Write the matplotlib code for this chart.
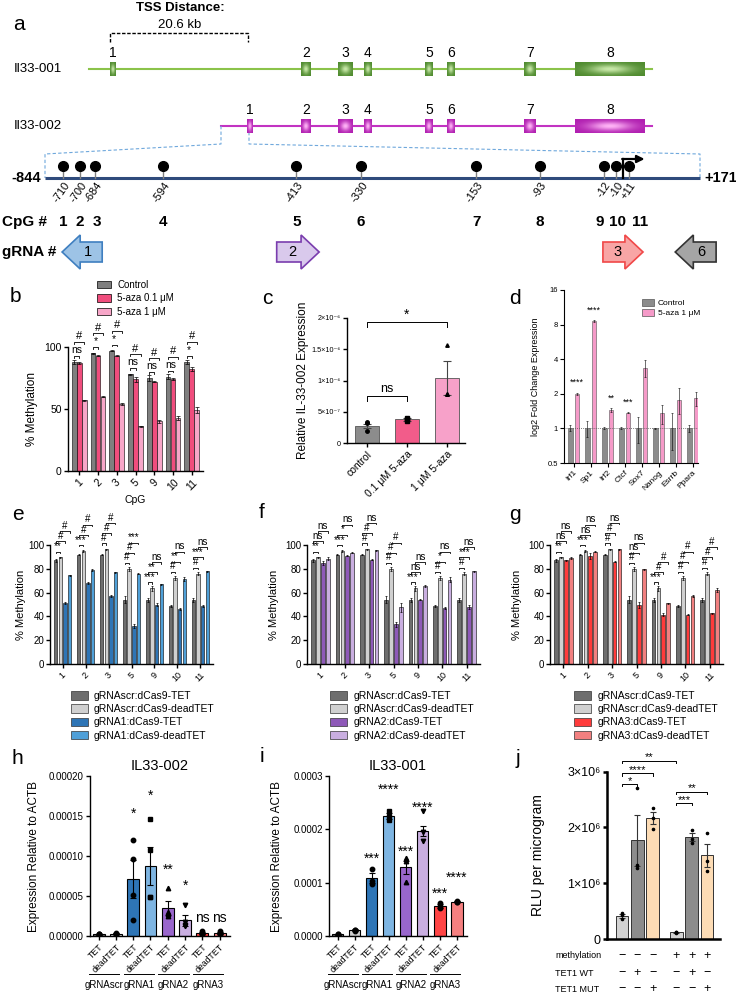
import numpy as np
import matplotlib
matplotlib.use('Agg')
import matplotlib.pyplot as plt
from matplotlib.patches import Polygon, Patch
import matplotlib.transforms as mtransforms

plt.rcParams['font.family'] = ['Liberation Sans', 'DejaVu Sans']
plt.rcParams['axes.linewidth'] = 1.0

# ======================= DATA =======================
# panel a : schematic (exon spans in schematic units)
exon_nums = ['1', '2', '3', '4', '5', '6', '7', '8']
exon_start_001 = [110, 301, 338, 364, 425, 447, 524, 575]
exon_end_001 = [116, 311, 353, 372, 433, 455, 536, 645]
exon_start_002 = [247, 301, 338, 364, 425, 447, 524, 575]
exon_end_002 = [253, 311, 353, 372, 433, 455, 536, 645]
tx_span_001 = [89, 652]
tx_span_002 = [221, 652]
# CpG positions (bp) and their place on the (not-to-scale) schematic
cpg_pos_labels = ['-710', '-700', '-684', '-594', '-413', '-330', '-153', '-93', '-12', '-10', '+11']
cpg_schematic = [-710, -688, -669, -583, -413, -331, -184, -103, -22, -6, 10]
cpg_numbers = ['1', '2', '3', '4', '5', '6', '7', '8', '9', '10', '11']
cpg_number_pos = [-710, -688, -667, -583, -413, -331, -184, -103, -27, -4, 24]
promoter_span = [-733, 100]
grna_names = ['1', '2', '3', '6']
grna_start = [-711, -438, -23, 69]
grna_end = [-660, -384, 28, 121]
grna_dir = [-1, 1, 1, -1]

# panel b
b_cpg = ['1', '2', '3', '5', '9', '10', '11']
b_control = [88, 95, 97, 78, 75, 76, 88]
b_aza01 = [87, 93, 93, 74, 72, 74, 82]
b_aza1 = [57, 60, 54, 36, 40, 43, 49]
b_control_err = [1.5, 0.5, 0.5, 0.5, 2.5, 2.0, 1.5]
b_aza01_err = [1.0, 0.5, 0.5, 2.0, 0.5, 1.0, 1.5]
b_aza1_err = [0.5, 0.5, 0.5, 0.5, 1.5, 1.5, 2.5]
b_sig_low = ['ns', '*', '*', 'ns', 'ns', 'ns', '*']
b_sig_high = ['#', '#', '#', '#', '#', '#', '#']

# panel c
c_groups = ['control', '0.1 \u03bcM 5-aza', '1 \u03bcM 5-aza']
c_means = [2.77e-7, 3.78e-7, 1.04e-6]
c_errs = [0.35e-7, 0.3e-7, 0.27e-6]
c_points = [[1.9e-7, 3.2e-7, 3.3e-7], [3.5e-7, 3.8e-7, 4.0e-7], [7.8e-7, 7.9e-7, 1.57e-6]]

# panel d
d_genes = ['Irf1', 'Sp1', 'Irf2', 'Ctcf', 'Sox7', 'Nanog', 'Esrrb', 'Ppara']
d_control = [1, 1, 1, 1, 1, 1, 1, 1]
d_control_err = [0.06, 0.15, 0.02, 0.02, 0.25, 0.01, 0.35, 0.07]
d_aza = [2.0, 8.6, 1.45, 1.37, 3.35, 1.35, 1.78, 1.83]
d_aza_err = [0.04, 0.1, 0.05, 0.02, 0.55, 0.25, 0.45, 0.25]
d_sig = ['****', '****', '**', '***', '', '', '', '']

# panels e-g
meth_cpg = ['1', '2', '3', '5', '9', '10', '11']
scr_tet = [87, 92, 92, 54, 54, 49, 54]
scr_dead = [89.5, 95, 96.5, 80, 63.5, 72.5, 76]
e_tet = [51.5, 68, 57, 32, 50, 46, 48.5]
e_dead = [74.5, 79, 77, 76, 67, 71.5, 78]
f_tet = [85, 91, 87.5, 33.5, 54, 47, 48]
f_dead = [88.5, 93.5, 95.5, 47.5, 65.5, 71, 78]
g_tet = [87, 91, 86, 49.5, 41.5, 41.5, 42.5]
g_dead = [89, 94.5, 96.5, 79.5, 51, 57, 62]
scr_tet_err = [1.5, 0.8, 0.5, 3.0, 1.5, 1.0, 1.5]
scr_dead_err = [0.5, 0.8, 0.5, 1.5, 2.0, 1.5, 1.0]
e_tet_err = [1.0, 0.5, 1.0, 1.5, 1.5, 1.0, 1.0]
e_dead_err = [0.5, 1.0, 0.5, 0.5, 0.5, 2.0, 0.5]
f_tet_err = [1.5, 0.5, 0.5, 2.0, 0.5, 0.5, 1.5]
f_dead_err = [1.0, 0.5, 0.5, 4.0, 0.5, 2.5, 0.5]
g_tet_err = [0.5, 2.5, 0.5, 2.5, 1.0, 0.5, 0.5]
g_dead_err = [0.5, 0.5, 0.5, 0.5, 0.5, 1.0, 1.5]
e_sig = [['**', '***', '#', '#', '***', '#', '#'],
         ['#', '#', '#', '#', '**', '**', '***'],
         ['#', '#', '#', '***', 'ns', 'ns', 'ns']]
f_sig = [['**', '***', '#', '#', '***', '#', '#'],
         ['ns', '*', '#', '#', 'ns', '*', '***'],
         ['ns', 'ns', 'ns', '#', 'ns', 'ns', 'ns']]
g_sig = [['**', '***', '#', '#', '***', '#', '#'],
         ['ns', 'ns', '#', 'ns', '#', '#', '#'],
         ['ns', 'ns', 'ns', 'ns', '#', '#', '#']]
e_labels = ['gRNAscr:dCas9-TET', 'gRNAscr:dCas9-deadTET', 'gRNA1:dCas9-TET', 'gRNA1:dCas9-deadTET']
f_labels = ['gRNAscr:dCas9-TET', 'gRNAscr:dCas9-deadTET', 'gRNA2:dCas9-TET', 'gRNA2:dCas9-deadTET']
g_labels = ['gRNAscr:dCas9-TET', 'gRNAscr:dCas9-deadTET', 'gRNA3:dCas9-TET', 'gRNA3:dCas9-deadTET']

# panels h, i
hi_ticklabels = ['TET', 'deadTET'] * 4
hi_groups = ['gRNAscr', 'gRNA1', 'gRNA2', 'gRNA3']
h_means = [0.000002, 0.000003, 0.0000712, 0.0000871, 0.000035, 0.0000196, 0.000004, 0.000004]
h_errs = [0.0000005, 0.000001, 0.0000242, 0.0000239, 0.0000083, 0.0000070, 0.000001, 0.000001]
h_points = [[2e-6, 3e-6, 1e-6, 2e-6], [3e-6, 2e-6, 4e-6, 2e-6], [120e-6, 96e-6, 51e-6, 20e-6],
            [146e-6, 108e-6, 49e-6, 49e-6], [60e-6, 28e-6, 25e-6, 30e-6], [39e-6, 17e-6, 14e-6, 12e-6],
            [6e-6, 4e-6, 3e-6, 2e-6], [6e-6, 4e-6, 3e-6, 3e-6]]
h_sig = ['', '', '*', '*', '**', '*', 'ns', 'ns']
h_sig_y = [0, 0, 0.000153, 0.000175, 0.000083, 0.000063, 0.000022, 0.000022]
i_means = [0.000003, 0.000011, 0.000109, 0.000225, 0.000129, 0.000197, 0.000056, 0.000064]
i_errs = [0.000001, 0.000002, 0.000009, 0.000005, 0.000012, 0.00001, 0.000004, 0.000001]
i_points = [[3e-6, 4e-6, 2e-6], [12e-6, 10e-6, 11e-6], [125e-6, 103e-6, 98e-6], [234e-6, 225e-6, 217e-6],
            [146e-6, 140e-6, 102e-6], [234e-6, 195e-6, 178e-6], [61e-6, 56e-6, 52e-6], [66e-6, 64e-6, 63e-6]]
i_sig = ['', '', '***', '****', '***', '****', '***', '****']
i_sig_y = [0, 0, 0.000144, 0.000274, 0.000157, 0.00024, 0.00008, 0.00011]

# panel j
j_means = [0.41e6, 1.77e6, 2.17e6, 0.12e6, 1.83e6, 1.50e6]
j_errs = [0.04e6, 0.46e6, 0.11e6, 0.01e6, 0.08e6, 0.20e6]
j_points = [[0.47e6, 0.43e6, 0.36e6], [2.71e6, 1.33e6, 1.28e6], [2.35e6, 2.17e6, 1.98e6],
            [0.12e6, 0.12e6, 0.11e6], [1.95e6, 1.80e6, 1.73e6], [1.91e6, 1.39e6, 1.22e6]]
j_brackets = [(0, 1, '*', 2.78e6), (0, 2, '****', 2.97e6), (0, 3, '**', 3.2e6),
              (3, 4, '***', 2.44e6), (3, 5, '**', 2.64e6)]
j_rows = ['methylation', 'TET1 WT', 'TET1 MUT']
j_methylation = ['\u2212', '\u2212', '\u2212', '+', '+', '+']
j_tet1_wt = ['\u2212', '+', '\u2212', '\u2212', '+', '\u2212']
j_tet1_mut = ['\u2212', '\u2212', '+', '\u2212', '\u2212', '+']

# ======================= FIGURE =======================
W, H = 736, 994
DPI = 100
fig = plt.figure(figsize=(W / DPI, H / DPI), dpi=DPI)


def pax(x0, y0, x1, y1):
    return fig.add_axes([x0 / W, 1 - y1 / H, (x1 - x0) / W, (y1 - y0) / H])


def ftext(x, y, s, **kw):
    fig.text(x / W, 1 - y / H, s, **kw)


def style(ax, lw=1.0):
    for s in ['top', 'right']:
        ax.spines[s].set_visible(False)
    ax.spines['left'].set_linewidth(lw)
    ax.spines['bottom'].set_linewidth(lw)
    ax.tick_params(direction='out', length=3, width=lw, pad=1.5)
    ax.patch.set_alpha(0)


def ylabel_px(ax, text, xpx, fs, ycenter=0.5):
    ax.set_ylabel(text, fontsize=fs)
    bb = ax.get_position()
    ax.yaxis.set_label_coords((xpx / W - bb.x0) / bb.width, ycenter)


def bracket(ax, x0, x1, y, text, tick, fs, gap=0.0, lw=0.6):
    ax.plot([x0, x0, x1, x1], [y - tick, y, y, y - tick], color='k', lw=lw, clip_on=False)
    if text:
        ax.text((x0 + x1) / 2, y + gap, text, ha='center', va='bottom', fontsize=fs, clip_on=False)


# panel letters
for lab, (x, y) in {'a': (19, 25), 'b': (15, 297), 'c': (267, 299), 'd': (515, 298), 'e': (18, 515),
                    'f': (262, 513), 'g': (515, 515), 'h': (17, 758), 'i': (262, 757), 'j': (518, 758)}.items():
    ftext(x, y, lab, fontsize=15, ha='center', va='center')

# ----------------------- panel a -----------------------
ax_a = pax(0, 0, 736, 275)
ax_a.axis('off')
ax_p = pax(0, 0, 736, 275)
ax_p.axis('off')


def draw_exon(ax, x0, x1, yc, h, dark, light):
    nx, ny = 40, 12
    X, Y = np.meshgrid(np.linspace(-1, 1, nx), np.linspace(-1, 1, ny))
    v = np.exp(-(X ** 2) * 2.5 - (Y ** 2) * 2.0)[..., None]
    d = np.array(matplotlib.colors.to_rgb(dark))
    l = np.array(matplotlib.colors.to_rgb(light))
    img = d + (l - d) * v
    ax.imshow(img, extent=(x0, x1, yc + h / 2, yc - h / 2), aspect='auto', interpolation='bilinear', zorder=3)


tx = [(tx_span_001, exon_start_001, exon_end_001, 69, '#8BC34A', '#4E8A2E', '#C8E8A8', 'Il33-001'),
      (tx_span_002, exon_start_002, exon_end_002, 126, '#C233C2', '#B01EB0', '#FFB3F6', 'Il33-002')]
for span, st, en, yc, lc, dk, lt, name in tx:
    ax_a.plot(span, [yc, yc], color=lc, lw=1.5, zorder=1)
    for s, e, n in zip(st, en, exon_nums):
        draw_exon(ax_a, s, e, yc, 14, dk, lt)
        ax_a.text((s + e) / 2, yc - 16, n, ha='center', va='center', fontsize=10)
    ax_a.text(14, yc, name, ha='left', va='center', fontsize=9.5)

ax_a.plot([110, 110, 248, 248], [42, 33, 33, 42], ls=(0, (2.5, 1.2)), color='k', lw=1)
ax_a.text(180, 8, 'TSS Distance:', ha='center', va='center', fontsize=9.5, fontweight='bold')
ax_a.text(180, 25, '20.6 kb', ha='center', va='center', fontsize=9.5)
ax_a.plot([221, 221, 45, 45], [126, 144, 154, 178], ls=(0, (3, 2)), color='#6FA8DC', lw=0.8)
ax_a.plot([249, 249, 700, 700], [132, 144, 154, 178], ls=(0, (3, 2)), color='#6FA8DC', lw=0.8)
ax_a.text(41, 178, '-844', ha='right', va='center', fontsize=10.5, fontweight='bold')
ax_a.text(704, 178, '+171', ha='left', va='center', fontsize=10.5, fontweight='bold')
ax_a.text(2, 222, 'CpG #', ha='left', va='center', fontsize=11, fontweight='bold')
ax_a.text(2, 252, 'gRNA #', ha='left', va='center', fontsize=11, fontweight='bold')
ax_a.set_xlim(0, 736)
ax_a.set_ylim(275, 0)

# promoter
ax_p.plot(promoter_span, [178, 178], color='#2F4B7C', lw=2.2, solid_capstyle='butt')
for p, lab in zip(cpg_schematic, cpg_pos_labels):
    ax_p.plot([p, p], [166, 178], color='#808080', lw=1)
    ax_p.plot(p, 166, 'o', color='k', ms=7, zorder=4)
    ax_p.text(p + 6, 183, lab, rotation=55, ha='right', va='center', rotation_mode='anchor', fontsize=8)
ax_p.plot([2.5, 2.5], [178, 159], color='k', lw=1.6)
ax_p.annotate('', xy=(30, 159), xytext=(1.5, 159),
              arrowprops=dict(arrowstyle='-|>', lw=1.6, color='k', mutation_scale=11, shrinkA=0, shrinkB=0))
for p, n in zip(cpg_number_pos, cpg_numbers):
    ax_p.text(p, 222, n, ha='center', va='center', fontsize=11, fontweight='bold')

grna_cols = [('#9DC3E6', '#3F7FC0'), ('#D9C9EC', '#7A3DAE'), ('#F8A5A5', '#F04848'), ('#A5A5A5', '#333333')]
for s, e, d, n, (fc, ec) in zip(grna_start, grna_end, grna_dir, grna_names, grna_cols):
    yc, bh, hh, hl = 252, 10, 17, 23
    if d > 0:
        pts = [(s, yc - bh), (e - hl, yc - bh), (e - hl, yc - hh), (e, yc), (e - hl, yc + hh), (e - hl, yc + bh),
               (s, yc + bh)]
        tx_x = (s + e - hl) / 2 + 4
    else:
        pts = [(e, yc - bh), (s + hl, yc - bh), (s + hl, yc - hh), (s, yc), (s + hl, yc + hh), (s + hl, yc + bh),
               (e, yc + bh)]
        tx_x = (e + s + hl) / 2 - 4
    ax_p.add_patch(Polygon(pts, closed=True, facecolor=fc, edgecolor=ec, lw=1.2))
    ax_p.text(tx_x, yc, n, ha='center', va='center', fontsize=10.5)
ax_p.set_xlim(-790, 146.3)
ax_p.set_ylim(275, 0)

# ----------------------- panel b -----------------------
ax_b = pax(68, 316, 203, 471)
style(ax_b)
bx = np.arange(len(b_cpg))
b_cols = ['#7F7F7F', '#F04D7D', '#F7A6C8']
b_series = [b_control, b_aza01, b_aza1]
b_errs = [b_control_err, b_aza01_err, b_aza1_err]
b_off = [-0.27, 0, 0.27]
for k in range(3):
    ax_b.bar(bx + b_off[k], b_series[k], 0.25, color=b_cols[k], edgecolor='k', linewidth=0.4,
             yerr=b_errs[k], error_kw=dict(elinewidth=0.5, capsize=1.2, capthick=0.5))
for g in range(len(bx)):
    h1 = max(b_control[g], b_aza01[g]) + 5
    bracket(ax_b, bx[g] + b_off[0], bx[g] + b_off[1], h1, b_sig_low[g], 1.5, 7.5, 0.5)
    bracket(ax_b, bx[g] + b_off[0], bx[g] + b_off[2], h1 + 11, b_sig_high[g], 1.5, 8, 0.5)
ax_b.set_ylim(0, 125)
ax_b.set_xlim(-0.6, 6.6)
ax_b.spines['left'].set_bounds(0, 100)
ax_b.set_yticks([0, 50, 100])
ax_b.tick_params(axis='y', labelsize=7.5)
ax_b.set_xticks(bx)
ax_b.set_xticklabels(b_cpg, rotation=45, fontsize=7.5)
ax_b.set_xlabel('CpG', fontsize=7.5, labelpad=2)
ylabel_px(ax_b, '% Methylation', 38, 8.5, 50 / 125)
fig.legend([Patch(facecolor=c, edgecolor='k', lw=0.5) for c in b_cols],
           ['Control', '5-aza 0.1 \u03bcM', '5-aza 1 \u03bcM'], loc='upper left',
           bbox_to_anchor=(92 / W, 1 - 275 / H), frameon=False, fontsize=7, borderpad=0,
           handlelength=1.5, handleheight=0.8, handletextpad=0.6, labelspacing=0.35)

# ----------------------- panel c -----------------------
ax_c = pax(347, 318, 465, 443)
style(ax_c)
cx = np.arange(3)
c_cols = ['#8C8C8C', '#F25C8A', '#F7A1C9']
ax_c.bar(cx, c_means, 0.62, color=c_cols, edgecolor='#555555', linewidth=0.6, yerr=c_errs,
         error_kw=dict(elinewidth=0.8, capsize=3, capthick=0.8, ecolor='#444444'))
for k, mk in zip(range(3), ['o', 's', '^']):
    ax_c.plot([cx[k]] * len(c_points[k]), c_points[k], mk, color='k', ms=2.5, ls='none')
bracket(ax_c, 0, 1, 0.75e-6, 'ns', 0.08e-6, 9, 0.02e-6, lw=0.7)
bracket(ax_c, 0, 2, 1.94e-6, '*', 0.08e-6, 10, 0.0, lw=0.7)
ax_c.set_ylim(0, 2e-6)
ax_c.set_xlim(-0.5, 2.45)
ax_c.set_yticks([0, 5e-7, 1e-6, 1.5e-6, 2e-6])
ax_c.set_yticklabels(['0', '5\u00d710\u207b\u2077', '1\u00d710\u207b\u2076', '1.5\u00d710\u207b\u2076',
                      '2\u00d710\u207b\u2076'], fontsize=5.2)
ax_c.set_xticks(cx)
ax_c.set_xticklabels(c_groups, rotation=45, ha='right', rotation_mode='anchor', fontsize=7.5)
ylabel_px(ax_c, 'Relative IL-33-002 Expression', 309, 8.5)

# ----------------------- panel d -----------------------
ax_d = pax(564, 290, 698, 463)
style(ax_d, 0.8)
dx = np.arange(len(d_genes))
ax_d.set_yscale('log', base=2)
ax_d.bar(dx - 0.2, np.array(d_control) - 0.5, 0.28, bottom=0.5, color='#8C8C8C', edgecolor='#555555',
         linewidth=0.4, yerr=d_control_err, error_kw=dict(elinewidth=0.4, capsize=1, capthick=0.4))
ax_d.bar(dx + 0.2, np.array(d_aza) - 0.5, 0.28, bottom=0.5, color='#F59AC8', edgecolor='#555555',
         linewidth=0.4, yerr=d_aza_err, error_kw=dict(elinewidth=0.4, capsize=1, capthick=0.4))
ax_d.axhline(1, ls=(0, (1, 1.5)), color='#555555', lw=0.6)
for g, s in enumerate(d_sig):
    if s:
        ax_d.text(dx[g] + 0.2, (d_aza[g] + d_aza_err[g]) * 1.12, s, ha='center', va='bottom', fontsize=6.5)
ax_d.set_ylim(0.5, 16)
ax_d.set_xlim(-0.56, 7.32)
ax_d.set_yticks([0.5, 1, 2, 4, 8, 16])
ax_d.set_yticklabels(['0.5', '1', '2', '4', '8', '16'], fontsize=5.5)
ax_d.yaxis.set_minor_locator(matplotlib.ticker.NullLocator())
ax_d.set_xticks(dx)
ax_d.set_xticklabels(d_genes, rotation=45, ha='right', rotation_mode='anchor', fontsize=6)
ylabel_px(ax_d, 'log2 Fold Change Expression', 540, 6.5)
fig.legend([Patch(facecolor=c, edgecolor='#555555', lw=0.5) for c in ['#8C8C8C', '#F59AC8']],
           ['Control', '5-aza 1 \u03bcM'], loc='upper left', bbox_to_anchor=(638 / W, 1 - 295 / H),
           frameon=False, fontsize=6, borderpad=0, handlelength=1.4, handleheight=0.8,
           handletextpad=0.5, labelspacing=0.25)


# ----------------------- panels e, f, g -----------------------
def meth_panel(rect, series, errs, colors, sigs, ylab_x, labels, leg_xy):
    ax = pax(*rect)
    style(ax)
    x = np.arange(len(meth_cpg))
    offs = [-0.3, -0.1, 0.1, 0.3]
    for k in range(4):
        ax.bar(x + offs[k], series[k], 0.15, color=colors[k], edgecolor='k', linewidth=0.4, yerr=errs[k],
               error_kw=dict(elinewidth=0.5, capsize=1, capthick=0.5))
    pairs = [(0, 1), (0, 2), (1, 3)]
    for g in range(len(x)):
        h = max(series[0][g], series[1][g]) + 5
        for lev, (a, b) in enumerate(pairs):
            if lev > 0:
                h = max(h + 8.5, max(series[a][g], series[b][g]) + 5)
            bracket(ax, x[g] + offs[a], x[g] + offs[b], h, sigs[lev][g], 1.2, 7, 0.3)
    top = (rect[3] - rect[1]) / 1.19
    ax.set_ylim(0, top)
    ax.set_xlim(-0.55, 6.55)
    ax.spines['left'].set_bounds(0, 100)
    ax.set_yticks([0, 20, 40, 60, 80, 100])
    ax.tick_params(axis='y', labelsize=7, pad=1)
    ax.set_xticks(x)
    ax.set_xticklabels(meth_cpg, rotation=45, fontsize=6.5)
    ylabel_px(ax, '% Methylation', ylab_x, 8, 50 / top)
    fig.legend([Patch(facecolor=c, edgecolor='#333333', lw=0.5) for c in colors], labels, loc='upper left',
               bbox_to_anchor=(leg_xy[0] / W, 1 - leg_xy[1] / H), frameon=False, fontsize=7.5, borderpad=0,
               handlelength=1.6, handleheight=0.9, handletextpad=0.6, labelspacing=0.3)
    return ax


c_gray = ['#6E6E6E', '#D0D0D0']
meth_panel((50, 510, 213, 664), [scr_tet, scr_dead, e_tet, e_dead],
           [scr_tet_err, scr_dead_err, e_tet_err, e_dead_err], c_gray + ['#2E75B6', '#4FA0D8'], e_sig, 26,
           e_labels, (66, 686))
meth_panel((307, 510, 480, 664), [scr_tet, scr_dead, f_tet, f_dead],
           [scr_tet_err, scr_dead_err, f_tet_err, f_dead_err], c_gray + ['#8E59B8', '#C9AEE0'], f_sig, 279,
           f_labels, (325, 686))
meth_panel((550, 510, 723, 664), [scr_tet, scr_dead, g_tet, g_dead],
           [scr_tet_err, scr_dead_err, g_tet_err, g_dead_err], c_gray + ['#FF3B3B', '#F28080'], g_sig, 522,
           g_labels, (569, 686))

# ----------------------- panels h, i -----------------------
hi_cols = ['#6E6E6E', '#D0D0D0', '#2E75B6', '#7EB5E2', '#9966CC', '#C9AEE0', '#FF4545', '#F58080']
hi_markers = ['o', 'o', 'o', 's', '^', 'v', 'o', 'o']


def expr_panel(rect, means, errs, pts, sigs, sig_y, top, yticks, fmt, title, ylab_x):
    ax = pax(*rect)
    style(ax)
    x = np.arange(8)
    ax.bar(x, means, 0.68, color=hi_cols, edgecolor='k', linewidth=0.8, yerr=errs,
           error_kw=dict(elinewidth=0.8, capsize=2.5, capthick=0.8), zorder=2)
    for k in range(8):
        ax.plot([x[k]] * len(pts[k]), pts[k], hi_markers[k], color='k', ms=3.2, ls='none', zorder=3)
        if sigs[k]:
            ax.text(x[k], sig_y[k], sigs[k], ha='center', va='center', fontsize=10, clip_on=False)
    ax.set_ylim(0, top)
    ax.set_xlim(-0.5, 7.6)
    ax.set_yticks(yticks)
    ax.set_yticklabels([fmt % v for v in yticks], fontsize=7)
    ax.set_xticks(x)
    ax.set_xticklabels(hi_ticklabels, rotation=45, ha='right', rotation_mode='anchor', fontsize=6.3)
    ax.set_title(title, fontsize=10.5, pad=4)
    ylabel_px(ax, 'Expression Relative to ACTB', ylab_x, 8.5)
    tr = mtransforms.blended_transform_factory(ax.transData, fig.transFigure)
    for gi, gname in enumerate(hi_groups):
        ax.plot([2 * gi - 0.55, 2 * gi + 1.2], [1 - 974 / H] * 2, color='k', lw=0.7, transform=tr,
                clip_on=False)
        ax.text(2 * gi + 0.32, 1 - 985 / H, gname, ha='center', va='center', fontsize=7, transform=tr)
    return ax


expr_panel((90, 776, 230, 936), h_means, h_errs, h_points, h_sig, h_sig_y, 0.0002,
           [0, 0.00005, 0.0001, 0.00015, 0.0002], '%.5f', 'IL33-002', 40)
expr_panel((329, 776, 467, 936), i_means, i_errs, i_points, i_sig, i_sig_y, 0.0003,
           [0, 0.0001, 0.0002, 0.0003], '%.4f', 'IL33-001', 283)

# ----------------------- panel j -----------------------
ax_j = pax(607, 755, 720, 939)
style(ax_j, 1.8)
jx = np.array([0, 1, 2, 3.55, 4.55, 5.55])
j_cols = ['#D3D3D3', '#8C8C8C', '#FDDCB5', '#D3D3D3', '#8C8C8C', '#FDDCB5']
ax_j.bar(jx, j_means, 0.82, color=j_cols, edgecolor='#333333', linewidth=0.7, yerr=j_errs,
         error_kw=dict(elinewidth=0.8, capsize=2.5, capthick=0.8, ecolor='#333333'))
for k in range(6):
    ax_j.plot([jx[k]] * 3, j_points[k], 'o', color='k', ms=1.6, ls='none')
for a, b, s, y in j_brackets:
    bracket(ax_j, jx[a], jx[b], y, s, 0.04e6, 8, -0.03e6, lw=0.7)
ax_j.set_ylim(0, 3.3e6)
ax_j.set_xlim(-0.98, 6.4)
ax_j.spines['left'].set_bounds(0, 3e6)
ax_j.set_yticks([0, 1e6, 2e6, 3e6])
ax_j.set_yticklabels(['0', '1\u00d710\u2076', '2\u00d710\u2076', '3\u00d710\u2076'], fontsize=9)
ax_j.set_xticks([])
ylabel_px(ax_j, 'RLU per microgram', 545, 10, (1.5 / 3.3))
trj = mtransforms.blended_transform_factory(ax_j.transData, fig.transFigure)
for row, vals, ypx in zip(j_rows, [j_methylation, j_tet1_wt, j_tet1_mut], [956, 973, 989]):
    fig.text(555 / W, 1 - ypx / H, row, ha='left', va='center', fontsize=6.5)
    for k in range(6):
        ax_j.text(jx[k], 1 - ypx / H, vals[k], ha='center', va='center', fontsize=9, transform=trj)

fig.savefig('out.png', dpi=DPI)
